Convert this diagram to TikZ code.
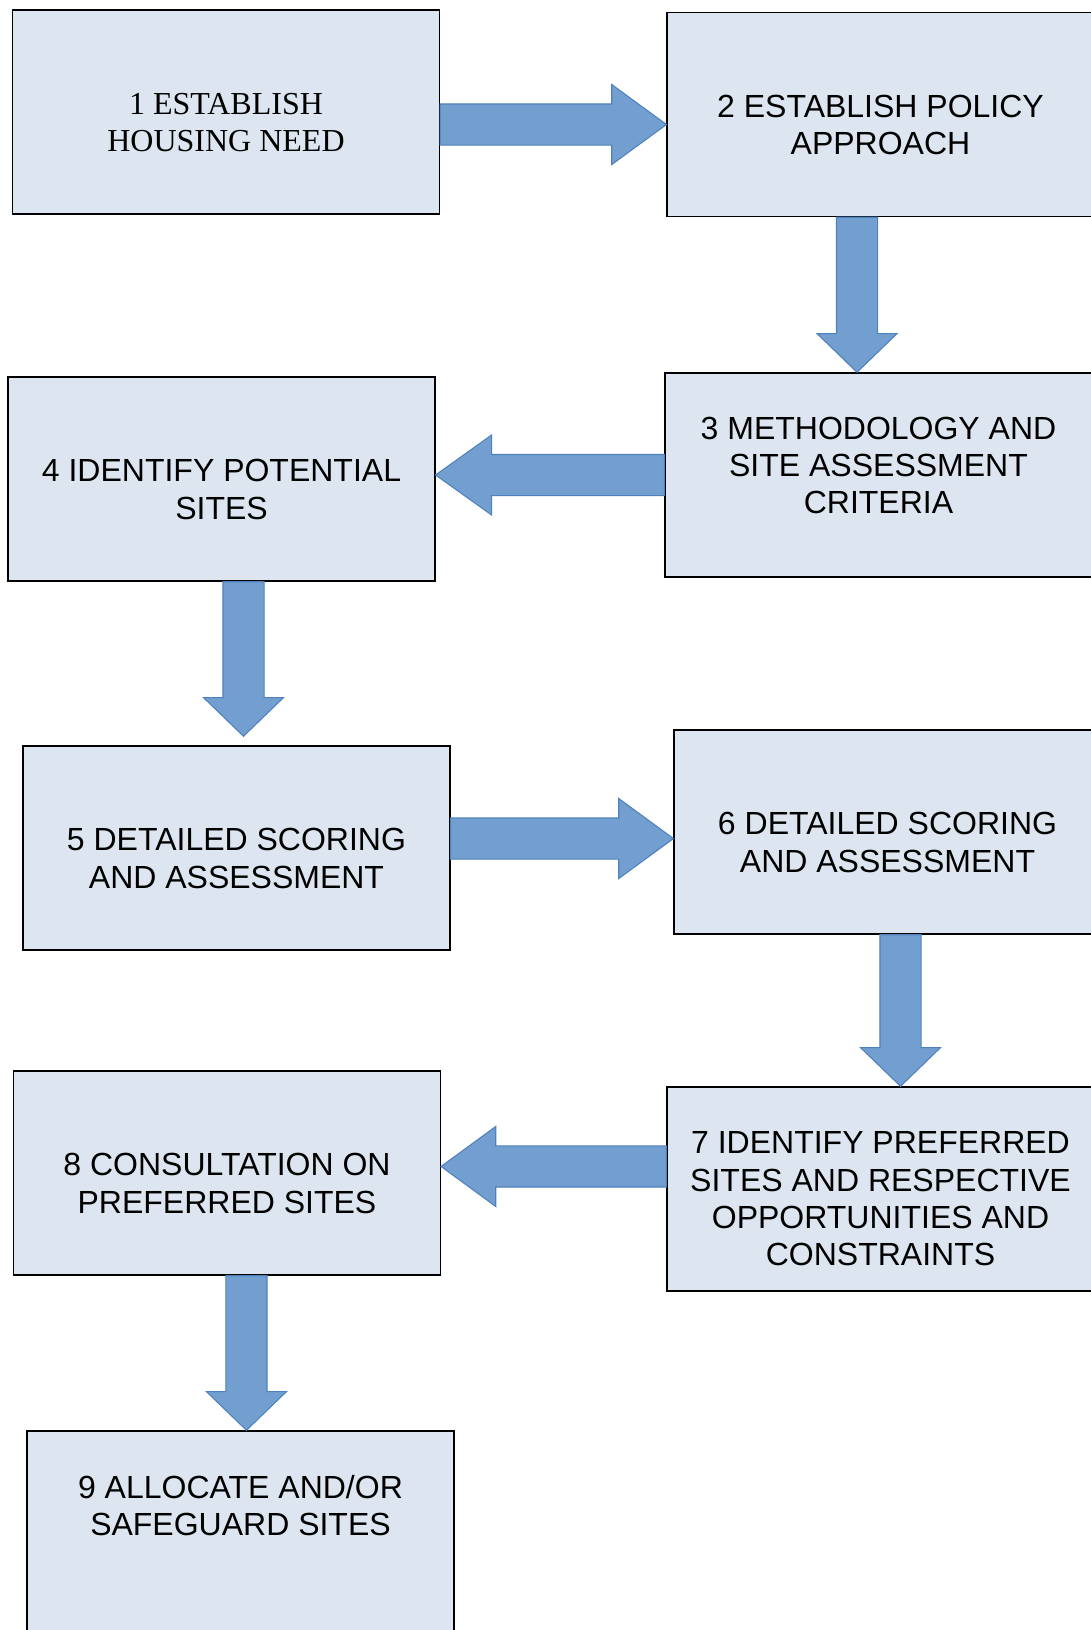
\documentclass[tikz,border=0pt]{standalone}
\usepackage{fontspec}
\setmainfont{Liberation Sans}
\newfontfamily\timesfont{Liberation Serif}
\usetikzlibrary{calc}

\definecolor{boxfill}{RGB}{221,230,240}
\definecolor{flowfill}{RGB}{114,159,207}
\definecolor{flowline}{RGB}{79,129,189}

% block arrow: #1 start, #2 tip, #3 head length
\newcommand{\flowarrow}[3]{%
  \path #1 coordinate (fa) #2 coordinate (fb) ($(fb)!#3!(fa)$) coordinate (fh);
  \filldraw[flow] ($(fa)!15.4pt!90:(fb)$) -- ($(fh)!15.4pt!90:(fb)$)
    -- ($(fh)!30pt!90:(fb)$) -- (fb) -- ($(fh)!30pt!-90:(fb)$)
    -- ($(fh)!15.4pt!-90:(fb)$) -- ($(fa)!15.4pt!-90:(fb)$) -- cycle;}

\begin{document}
\begin{tikzpicture}[
        x=0.75pt, y=-0.75pt,
        box/.style={draw, line width=1.1pt, fill=boxfill, minimum width=320pt,
          minimum height=153pt, inner sep=0pt, align=center,
          text height=60pt, text depth=0pt,
          font=\fontsize{24}{28}\selectfont},
        flow/.style={fill=flowfill, draw=flowline, line width=0.8pt, line join=miter}
      ]
      \clip (0,0) rectangle (1091,1630);

      % --- Boxes (zig-zag over two columns) ---
      \node[box, font=\timesfont\fontsize{24}{28}\selectfont] (s1) at (226,112)
        {1 ESTABLISH\\HOUSING NEED};
      \node[box] (s2) at (880.5,114.5) {2 ESTABLISH POLICY\\APPROACH};
      \node[box, text height=58pt] (s3) at (878.5,475) {3 METHODOLOGY AND\\SITE ASSESSMENT\\CRITERIA};
      \node[box] (s4) at (221.5,479) {4 IDENTIFY POTENTIAL\\SITES};
      \node[box] (s5) at (236.5,848) {5 DETAILED SCORING\\AND ASSESSMENT};
      \node[box] (s6) at (887.5,832) {6 DETAILED SCORING\\AND ASSESSMENT};
      \node[box, text height=115pt] (s7) at (880.5,1189) {7 IDENTIFY PREFERRED\\SITES AND RESPECTIVE\\OPPORTUNITIES AND\\CONSTRAINTS};
      \node[box] (s8) at (227,1173) {8 CONSULTATION ON\\PREFERRED SITES};
      \node[box, text height=4pt] (s9) at (240.5,1533) {9 ALLOCATE AND/OR\\SAFEGUARD SITES};

      % --- Arrows ---
      \flowarrow{([yshift=-9.4pt]s1.east)}{(s2.west |- fa)}{41pt}
      \flowarrow{([xshift=-17.6pt]s2.south)}{(fa |- s3.north)}{29pt}
      \flowarrow{(s3.west)}{(s4.east |- fa)}{42pt}
      \flowarrow{([xshift=16.5pt]s4.south)}{($(fa |- s5.north)+(0,-9)$)}{29pt}
      \flowarrow{([yshift=7.1pt]s5.east)}{(s6.west |- fa)}{41pt}
      \flowarrow{([xshift=9.75pt]s6.south)}{(fa |- s7.north)}{29pt}
      \flowarrow{([yshift=16.9pt]s7.west)}{(s8.east |- fa)}{41pt}
      \flowarrow{([xshift=14.6pt]s8.south)}{(fa |- s9.north)}{29pt}

    \end{tikzpicture}
\end{document}
